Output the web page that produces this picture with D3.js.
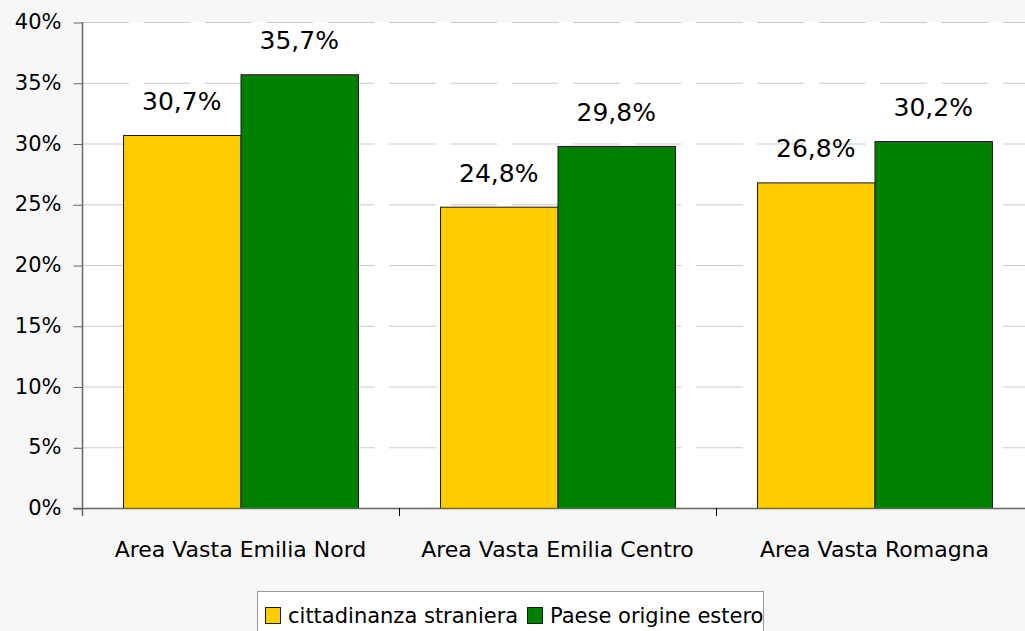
<!DOCTYPE html>
<html>
<head>
<meta charset="utf-8">
<script src="https://cdn.jsdelivr.net/npm/d3@7"></script>
<style>
  html, body { margin: 0; padding: 0; background: #f7f7f7; }
  svg { display: block; font-family: "DejaVu Sans", sans-serif; }
</style>
</head>
<body>
<svg id="chart" width="1025" height="631"></svg>
<script>
// Categories, series and values
const categories = ["Area Vasta Emilia Nord", "Area Vasta Emilia Centro", "Area Vasta Romagna"];
const seriesNames = ["cittadinanza straniera", "Paese origine estero"];
const seriesColors = ["#FFCC00", "#008000"];
const cittadinanza = [30.7, 24.8, 26.8];
const paeseOrigine = [35.7, 29.8, 30.2];
const yTicks = [0, 5, 10, 15, 20, 25, 30, 35, 40];

const seriesValues = [cittadinanza, paeseOrigine];
const fmt = v => v.toFixed(1).replace(".", ",") + "%";

const svg = d3.select("#chart");
const plot = { left: 82, right: 1033, top: 22, bottom: 508 };

const y = d3.scaleLinear().domain([0, 40]).range([plot.bottom, plot.top]);
const x = d3.scaleBand().domain(categories).range([plot.left, plot.right]);
const bw = x.bandwidth();
const xs = d3.scaleBand().domain(seriesNames).range([bw * 0.1295, bw * 0.8705]);

// plot background
svg.append("rect")
  .attr("x", plot.left).attr("y", plot.top)
  .attr("width", plot.right - plot.left).attr("height", plot.bottom - plot.top)
  .attr("fill", "#ffffff");

// dashed gridlines
svg.append("g").selectAll("line")
  .data(yTicks.filter(t => t > 0))
  .join("line")
  .attr("x1", plot.left).attr("x2", plot.right)
  .attr("y1", d => y(d) + 0.5).attr("y2", d => y(d) + 0.5)
  .attr("stroke", "#cccccc").attr("stroke-width", 1)
  .attr("stroke-dasharray", "47,14.4");

// bars
const groups = svg.append("g").selectAll("g")
  .data(categories)
  .join("g")
  .attr("transform", d => `translate(${x(d)},0)`);

groups.selectAll("rect")
  .data((d, i) => seriesNames.map((s, j) => ({ s, j, v: seriesValues[j][i] })))
  .join("rect")
  .attr("x", d => xs(d.s) + 0.5)
  .attr("y", d => y(d.v) + 0.5)
  .attr("width", xs.bandwidth())
  .attr("height", d => y(0) - y(d.v))
  .attr("fill", d => seriesColors[d.j])
  .attr("stroke", "#1a1a1a").attr("stroke-width", 1);

// value labels
groups.selectAll("text")
  .data((d, i) => seriesNames.map((s, j) => ({ s, j, v: seriesValues[j][i] })))
  .join("text")
  .attr("x", d => xs(d.s) + xs.bandwidth() / 2)
  .attr("y", d => y(d.v) - 25)
  .attr("text-anchor", "middle")
  .attr("font-size", 25)
  .attr("fill", "#000")
  .text(d => fmt(d.v));

// y axis
const yAxis = d3.axisLeft(y).tickValues(yTicks).tickFormat(d => d + "%").tickSize(9).tickPadding(12);
const gy = svg.append("g").attr("transform", `translate(${plot.left + 0.5},0)`).call(yAxis);
gy.select(".domain").remove();
gy.selectAll(".tick line").attr("stroke", "#666").attr("transform", "translate(0,0.5)");
gy.selectAll(".tick text").attr("font-size", 21).attr("font-family", "DejaVu Sans, sans-serif").attr("fill", "#000");
svg.append("line")
  .attr("x1", plot.left + 0.5).attr("x2", plot.left + 0.5)
  .attr("y1", plot.top).attr("y2", plot.bottom + 8)
  .attr("stroke", "#666").attr("stroke-width", 1.5);

// x axis
svg.append("line")
  .attr("x1", plot.left - 9).attr("x2", plot.right)
  .attr("y1", plot.bottom + 0.5).attr("y2", plot.bottom + 0.5)
  .attr("stroke", "#666").attr("stroke-width", 1.5);
svg.append("g").selectAll("line")
  .data(categories.slice(1))
  .join("line")
  .attr("x1", d => x(d) + 0.5).attr("x2", d => x(d) + 0.5)
  .attr("y1", plot.bottom).attr("y2", plot.bottom + 8)
  .attr("stroke", "#000").attr("stroke-width", 1);
svg.append("g").selectAll("text")
  .data(categories)
  .join("text")
  .attr("x", d => x(d) + bw / 2)
  .attr("y", 557)
  .attr("text-anchor", "middle")
  .attr("font-size", 22)
  .attr("fill", "#000")
  .text(d => d);

// legend
const legend = svg.append("g");
legend.append("rect")
  .attr("x", 257.5).attr("y", 591.5)
  .attr("width", 506).attr("height", 60)
  .attr("fill", "#ffffff").attr("stroke", "#9a9a9a").attr("stroke-width", 1);
const legendX = [265, 527];
seriesNames.forEach((s, j) => {
  legend.append("rect")
    .attr("x", legendX[j] + 0.5).attr("y", 607.5)
    .attr("width", 15).attr("height", 16)
    .attr("fill", seriesColors[j]).attr("stroke", "#1a1a1a").attr("stroke-width", 1);
  legend.append("text")
    .attr("x", legendX[j] + 23).attr("y", 623)
    .attr("font-size", 21).attr("fill", "#000")
    .text(s);
});
</script>
</body>
</html>
